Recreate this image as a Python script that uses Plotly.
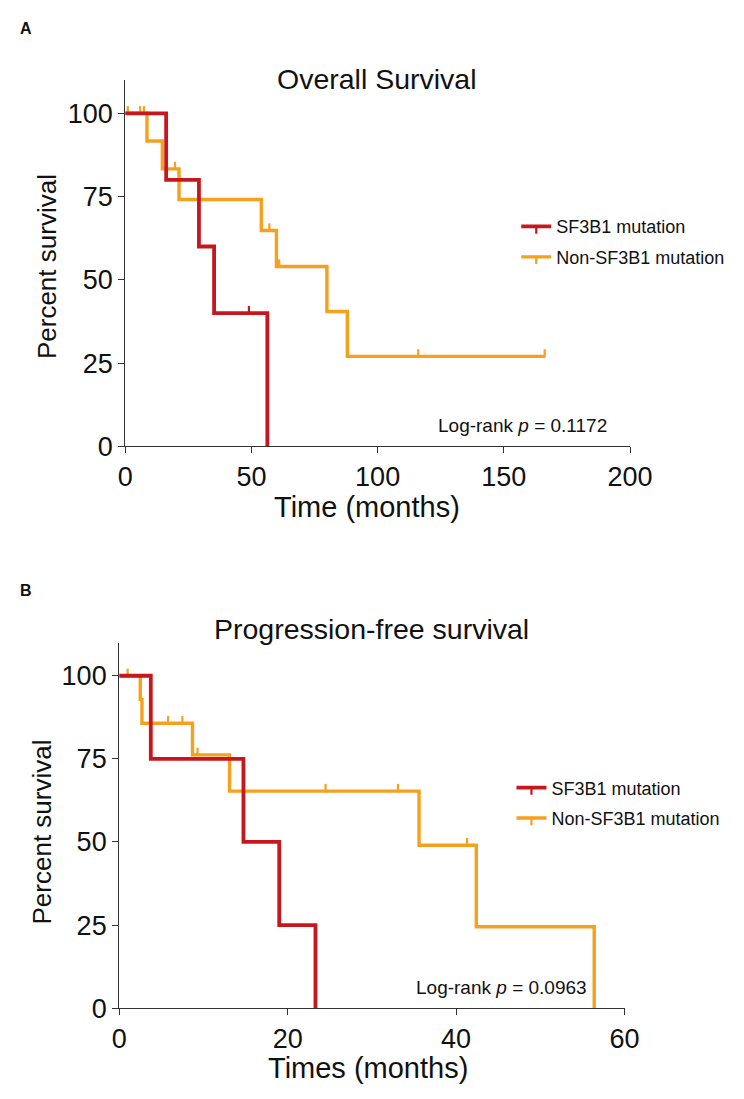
import plotly.graph_objects as go

# ---------------- data ----------------
# Panel A: Overall survival (months, percent)
os_sf3b1_time = [0, 16.2, 29.2, 35.2, 56.3]
os_sf3b1_surv = [100, 80, 60, 40, 0]
os_sf3b1_cens_time = [49.0]
os_sf3b1_cens_surv = [40]

os_non_time = [0, 8.6, 14.7, 21.3, 53.9, 59.9, 79.9, 88.0, 166.2]
os_non_surv = [100, 91.7, 83.3, 74.1, 64.8, 54.0, 40.5, 27.0, 27.0]
os_non_cens_time = [1.0, 5.9, 7.4, 19.7, 57.1, 61.0, 116.1, 166.2]
os_non_cens_surv = [100, 100, 100, 83.3, 64.8, 54.0, 27.0, 27.0]

# Panel B: Progression-free survival
pfs_sf3b1_time = [0, 3.75, 14.75, 19.0, 23.3]
pfs_sf3b1_surv = [100, 75, 50, 25, 0]

pfs_non_time = [0, 2.5, 2.7, 8.7, 13.1, 35.6, 42.4, 56.4]
pfs_non_surv = [100, 92.9, 85.7, 76.2, 65.3, 49.0, 24.5, 0]
pfs_non_cens_time = [1.0, 5.8, 7.5, 9.3, 24.5, 33.1, 41.3]
pfs_non_cens_surv = [100, 85.7, 85.7, 76.2, 65.3, 65.3, 49.0]

series_names = ["SF3B1 mutation", "Non-SF3B1 mutation"]
os_xticks = [0, 50, 100, 150, 200]
pfs_xticks = [0, 20, 40, 60]
yticks = [0, 25, 50, 75, 100]

# ---------------- style ----------------
W, H = 744, 1099
RED = "#C8161D"
ORANGE = "#F5A11E"
FONT = "Liberation Sans, Arial, Helvetica, sans-serif"
AX = "#333333"
RED_W, OR_W = 3.8, 3.4


def fx(p):
    return p / W


def fy(p):
    return 1 - p / H


TICK_MARK = dict(symbol="line-ns", size=6, angle=180, standoff=3)

fig = go.Figure()


def curve(t, s, color, xa, ya, width):
    fig.add_trace(go.Scatter(x=t, y=s, mode="lines", xaxis=xa, yaxis=ya,
                             line=dict(color=color, width=width, shape="hv"),
                             showlegend=False, hoverinfo="skip"))


def censor(t, s, color, xa, ya):
    fig.add_trace(go.Scatter(x=t, y=s, mode="markers", xaxis=xa, yaxis=ya,
                             marker=dict(color=color, line=dict(color=color, width=2.2),
                                         **TICK_MARK),
                             cliponaxis=False, showlegend=False, hoverinfo="skip"))


def legend_entry(name, color, leg, width, group):
    fig.add_trace(go.Scatter(x=[None], y=[None], mode="lines+markers", name=name,
                             legend=leg, legendgroup=group,
                             line=dict(color=color, width=width),
                             marker=dict(color=color, line=dict(color=color, width=2.2),
                                         **TICK_MARK)))


# Panel A (orange under red)
curve(os_non_time, os_non_surv, ORANGE, "x", "y", OR_W)
censor(os_non_cens_time, os_non_cens_surv, ORANGE, "x", "y")
curve(os_sf3b1_time, os_sf3b1_surv, RED, "x", "y", RED_W)
censor(os_sf3b1_cens_time, os_sf3b1_cens_surv, RED, "x", "y")
legend_entry(series_names[0], RED, "legend", RED_W, "a1")
legend_entry(series_names[1], ORANGE, "legend", OR_W, "a2")

# Panel B
curve(pfs_non_time, pfs_non_surv, ORANGE, "x2", "y2", OR_W)
censor(pfs_non_cens_time, pfs_non_cens_surv, ORANGE, "x2", "y2")
curve(pfs_sf3b1_time, pfs_sf3b1_surv, RED, "x2", "y2", RED_W)
legend_entry(series_names[0], RED, "legend2", RED_W, "b1")
legend_entry(series_names[1], ORANGE, "legend2", OR_W, "b2")

axis_common = dict(showline=True, linecolor=AX, linewidth=1.3, ticks="outside",
                   ticklen=6, tickwidth=1.3, tickcolor=AX, showgrid=False,
                   zeroline=False, tickfont=dict(family=FONT, size=27, color="#111"),
                   fixedrange=True)

leg_common = dict(xanchor="left", yanchor="top",
                  font=dict(family=FONT, size=18, color="#111"),
                  bgcolor="rgba(0,0,0,0)", tracegroupgap=4, traceorder="grouped")

fig.update_layout(
    width=W, height=H, margin=dict(l=0, r=0, t=0, b=0),
    paper_bgcolor="white", plot_bgcolor="white",
    font=dict(family=FONT, color="#111"),
    xaxis=dict(domain=[fx(114), fx(640.7)], range=[0, 200], tickvals=os_xticks,
               anchor="y", **axis_common),
    yaxis=dict(domain=[fy(444.4), fy(73)], range=[0, 110], tickvals=yticks,
               anchor="x", **axis_common),
    xaxis2=dict(domain=[fx(107.7), fx(635)], range=[0, 60], tickvals=pfs_xticks,
                anchor="y2", **axis_common),
    yaxis2=dict(domain=[fy(1014), fy(643.3)], range=[0, 110], tickvals=yticks,
                anchor="x2", **axis_common),
    legend=dict(x=fx(522), y=fy(203), **leg_common),
    legend2=dict(x=fx(517), y=fy(772), **leg_common),
)

ann = [
    dict(text="<b>A</b>", x=fx(2), y=fy(21), size=16, xanchor="left"),
    dict(text="<b>B</b>", x=fx(2), y=fy(591), size=16, xanchor="left"),
    dict(text="Overall Survival", x=fx(377), y=fy(72), size=28.5, xanchor="center"),
    dict(text="Progression-free survival", x=fx(371), y=fy(630), size=28.5, xanchor="center"),
    dict(text="Time (months)", x=fx(366), y=fy(506), size=29, xanchor="center"),
    dict(text="Times (months)", x=fx(367), y=fy(1075), size=29, xanchor="center"),
    dict(text="Log-rank <i>p</i> = 0.1172", x=fx(528), y=fy(423), size=19, xanchor="center"),
    dict(text="Log-rank <i>p</i> = 0.0963", x=fx(507), y=fy(993), size=19, xanchor="center"),
]
for a in ann:
    fig.add_annotation(text=a["text"], x=a["x"], y=a["y"], xref="paper", yref="paper",
                       xanchor=a["xanchor"], yanchor="middle", showarrow=False,
                       font=dict(family=FONT, size=a["size"], color="#111"))

for xc, yc in ((33, 262), (27, 835)):
    fig.add_annotation(text="Percent survival", x=fx(xc), y=fy(yc), xref="paper",
                       yref="paper", xanchor="center", yanchor="middle", textangle=-90,
                       showarrow=False, font=dict(family=FONT, size=26, color="#111"))

fig.write_html("out.html")
